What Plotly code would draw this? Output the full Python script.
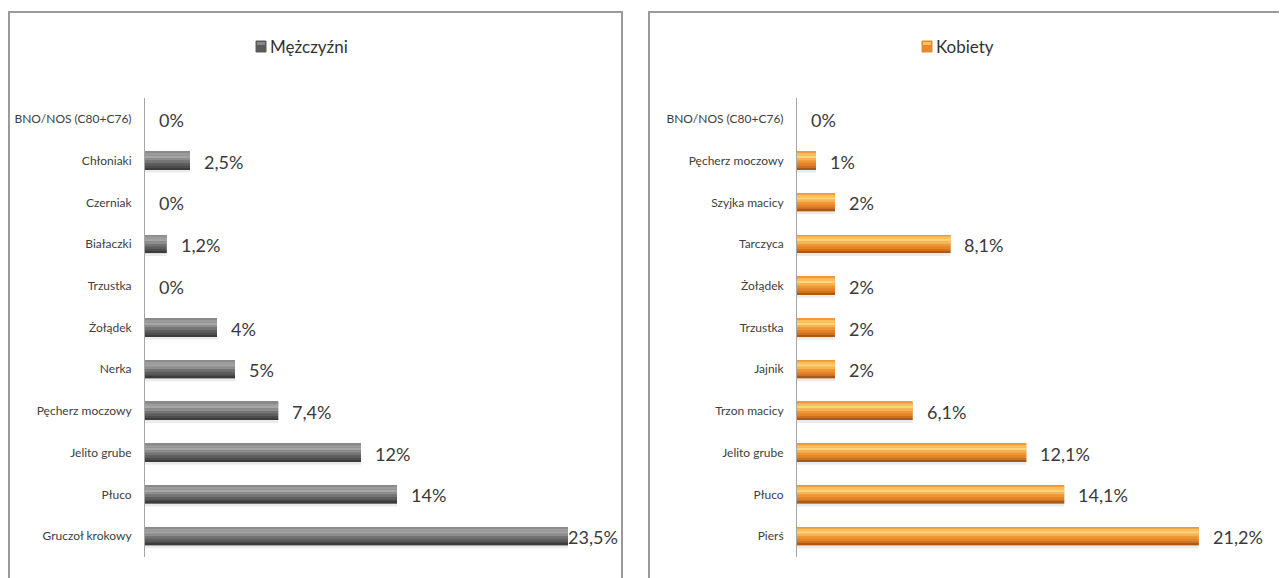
import plotly.graph_objects as go
from plotly.subplots import make_subplots

# dane (kolejnosc od gory do dolu)
men_labels = ["BNO/NOS (C80+C76)", "Chłoniaki", "Czerniak", "Białaczki", "Trzustka",
              "Żołądek", "Nerka", "Pęcherz moczowy", "Jelito grube", "Płuco",
              "Gruczoł krokowy"]
men_values = [0, 2.5, 0, 1.2, 0, 4, 5, 7.4, 12, 14, 23.5]

women_labels = ["BNO/NOS (C80+C76)", "Pęcherz moczowy", "Szyjka macicy", "Tarczyca",
                "Żołądek", "Trzustka", "Jajnik", "Trzon macicy", "Jelito grube",
                "Płuco", "Pierś"]
women_values = [0, 1, 2, 8.1, 2, 2, 2, 6.1, 12.1, 14.1, 21.2]

# strona ma margines 8px, wiec wykres jest mniejszy o 8px
PAD = 8
W, H = 1287 - PAD, 578 - PAD
FONT = "Lato, Liberation Sans, sans-serif"
UNIT = (557 - 98) / 11.0  # px na kategorie


def px_x(p):
    return (p - PAD) / W


def px_y(p):
    return 1 - (p - PAD) / H


def fmt(v):
    return f"{v:g}".replace(".", ",") + "%"


# warstwy paska: (od px, do px wzgledem srodka, kolor)
gray_bands = [
    (8, 12, "rgba(0,0,0,0.08)"),
    (-9, 9, "#6c6c6c"),
    (-9, -7.5, "#8a8a8a"),
    (-7.5, -5, "#9c9c9c"),
    (-5, -2.5, "#a6a6a6"),
    (-2.5, 0, "#8e8e8e"),
    (0, 2.5, "#747474"),
    (2.5, 5, "#5e5e5e"),
    (5, 7.5, "#4c4c4c"),
    (7.5, 9, "#3c3c3c"),
]
orange_bands = [
    (8, 12, "rgba(0,0,0,0.08)"),
    (-9, 9, "#ee9330"),
    (-9, -7.5, "#f09a38"),
    (-7.5, -5, "#fbbf5c"),
    (-5, -2.5, "#ffd47e"),
    (-2.5, 0, "#f8b452"),
    (0, 2.5, "#ef9634"),
    (2.5, 5, "#e3832a"),
    (5, 7.5, "#cd7020"),
    (7.5, 9, "#a95a17"),
]

fig = make_subplots(rows=1, cols=2, horizontal_spacing=0.05)


def add_panel(labels, values, bands, col, x0px, scale, box_right):
    for y0, y1, c in bands:
        fig.add_trace(go.Bar(
            x=values, y=labels, orientation="h",
            width=(y1 - y0) / UNIT, offset=y0 / UNIT,
            marker=dict(color=c, line=dict(width=0)),
            showlegend=False, hovertemplate="%{y}: %{x}%<extra></extra>",
        ), row=1, col=col)
    xref = "x" if col == 1 else "x2"
    yref = "y" if col == 1 else "y2"
    for lab, v in zip(labels, values):
        # etykieta, ktora nie miesci sie w ramce, wchodzi na koniec paska
        shift = 12
        if x0px + v * scale + 12 + 48 > box_right:
            shift = -2
        fig.add_annotation(x=v, y=lab, xref=xref, yref=yref, text=fmt(v),
                           showarrow=False, xanchor="left", xshift=shift, yshift=-1,
                           font=dict(size=18, color="#3a3a3a", family=FONT))


add_panel(men_labels, men_values, gray_bands, 1, 145, 18.0, 622)
add_panel(women_labels, women_values, orange_bands, 2, 797, 18.95, 1287)

ydom = [px_y(557), px_y(98)]
fig.update_xaxes(visible=False, showgrid=False, zeroline=False, fixedrange=True)
fig.update_layout(
    xaxis=dict(domain=[px_x(145), px_x(610)], range=[0, 465 / 18.0]),
    xaxis2=dict(domain=[px_x(797), px_x(1262)], range=[0, 465 / 18.95]),
)
fig.update_yaxes(autorange="reversed", showgrid=False, zeroline=False,
                 showline=True, linecolor="#a6a6a6", linewidth=1,
                 ticks="", ticklabelstandoff=10, domain=ydom,
                 tickfont=dict(size=12, color="#404040", family=FONT))

# legenda nad wykresem: kwadracik + nazwa serii
legends = [("Mężczyźni", 256, "#5a5a5a", "#888888"),
           ("Kobiety", 922, "#e8892a", "#f7c06a")]
shapes = [
    dict(type="rect", xref="paper", yref="paper",
         x0=px_x(9), x1=px_x(622), y0=px_y(590), y1=px_y(12),
         line=dict(color="#9a9a9a", width=2), fillcolor="rgba(0,0,0,0)"),
    dict(type="rect", xref="paper", yref="paper",
         x0=px_x(649), x1=px_x(1300), y0=px_y(590), y1=px_y(12),
         line=dict(color="#9a9a9a", width=2), fillcolor="rgba(0,0,0,0)"),
]
for name, mx, col, hi in legends:
    shapes.append(dict(type="rect", xref="paper", yref="paper",
                       x0=px_x(mx), x1=px_x(mx + 10), y0=px_y(52), y1=px_y(41),
                       line=dict(color=col, width=1), fillcolor=col))
    shapes.append(dict(type="rect", xref="paper", yref="paper",
                       x0=px_x(mx + 1), x1=px_x(mx + 9), y0=px_y(45), y1=px_y(42),
                       line=dict(width=0), fillcolor=hi))
    fig.add_annotation(x=px_x(mx + 12), y=px_y(46.5), xref="paper", yref="paper",
                       text=name, showarrow=False, xanchor="left", yanchor="middle",
                       font=dict(size=17, color="#333333", family=FONT))

fig.update_layout(
    barmode="overlay",
    width=W, height=H,
    margin=dict(l=0, r=0, t=0, b=0),
    paper_bgcolor="white", plot_bgcolor="white",
    showlegend=False,
    shapes=shapes,
)

fig.write_html("out.html")
